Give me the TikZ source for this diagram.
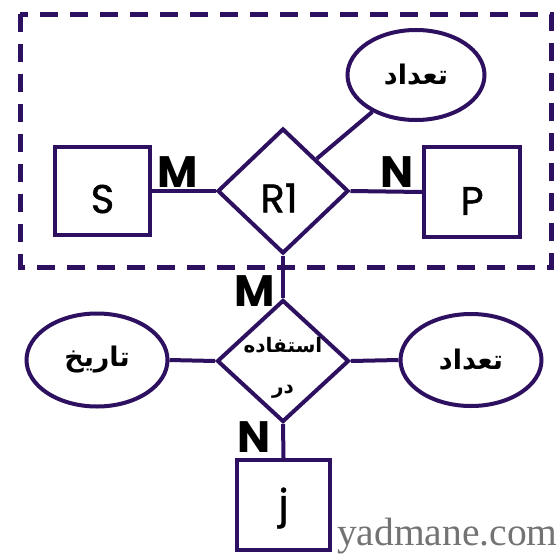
\documentclass[tikz,border=0pt]{standalone}
\usepackage{fontspec}
\setmainfont{Liberation Serif}
\newfontfamily\labfont[FakeBold=1.2]{Poppins}
\newfontfamily\cardfont{Poppins}
\newfontfamily\arabicfont[Script=Arabic]{DejaVu Sans}
\TeXXeTstate=1
\usetikzlibrary{shapes.geometric}
\definecolor{ink}{RGB}{46,16,96}
\definecolor{wm}{RGB}{115,115,115}
\begin{document}
\begin{tikzpicture}[x=1pt,y=-1pt,
  ent/.style={draw=ink, line width=4pt, rectangle, inner sep=0pt},
  rel/.style={draw=ink, line width=4pt, diamond, aspect=1, inner sep=0pt},
  attr/.style={draw=ink, line width=4pt, ellipse, inner sep=0pt, font=\arabicfont\bfseries\fontsize{27}{30}\selectfont},
  conn/.style={draw=ink, line width=4pt},
  lab/.style={font=\labfont\fontsize{40}{40}\selectfont, inner sep=0pt, text=black},
  atext/.style={font=\arabicfont\bfseries\fontsize{20}{22}\selectfont, inner sep=0pt, text=black},
  card/.style={font=\cardfont\bfseries\fontsize{44}{44}\selectfont, inner sep=0pt, text=black}]
\useasboundingbox (0,0) rectangle (559,557);
\fill[white] (0,0) rectangle (559,557);
% aggregation frame
\draw[ink, line width=5pt, dash pattern=on 18pt off 12pt] (20,14) rectangle (551,267);
% entities
\node[ent, minimum width=95pt, minimum height=88pt, label={[lab,yshift=-8pt]center:S}] (S) at (102.5,191) {};
\node[ent, minimum width=96pt, minimum height=90pt, label={[lab,yshift=-9pt]center:P}] (P) at (472,192) {};
\node[ent, minimum width=93pt, minimum height=90pt, label={[lab,yshift=-3pt]center:j}] (J) at (283.5,505) {};
% relationships
\node[rel, minimum width=131pt, minimum height=125pt, label={[lab,yshift=-7pt,xshift=-4pt]center:R1}] (R1) at (283,191) {};
\node[rel, minimum width=132pt, minimum height=122pt,
  label={[atext,yshift=16pt]center:{\beginR استفاده\endR}},
  label={[atext,yshift=-31pt]center:{\beginR در\endR}}] (R2) at (283,361) {};
% attributes
\node[attr, minimum width=137pt, minimum height=90pt] (A1) at (416,75) {\beginR تعداد\endR};
\node[attr, minimum width=141pt, minimum height=93pt] (A2) at (97,360) {\beginR تاریخ\endR};
\node[attr, minimum width=141pt, minimum height=92pt] (A3) at (471,360) {\beginR تعداد\endR};
% connectors
\draw[conn] (S.east) -- (R1.west);
\draw[conn] (R1.east) -- (P.west);
\draw[conn] (R1.north east) -- (A1);
\draw[conn] (R1.south) -- (R2.north);
\draw[conn] (R2.south) -- (J.north);
\draw[conn] (A2.east) -- (R2.west);
\draw[conn] (R2.east) -- (A3.west);
% cardinalities
\node[card] (c1) at (178,172) {M};
\node[card] (c2) at (397,172) {N};
\node[card] (c3) at (255,291) {M};
\node[card] (c4) at (254,437) {N};
% watermark
\node[anchor=base west, inner sep=0pt, text=wm, font=\fontsize{39.5}{40}\selectfont] (wmk) at (337,545) {yadmane.com};
\end{tikzpicture}
\end{document}
